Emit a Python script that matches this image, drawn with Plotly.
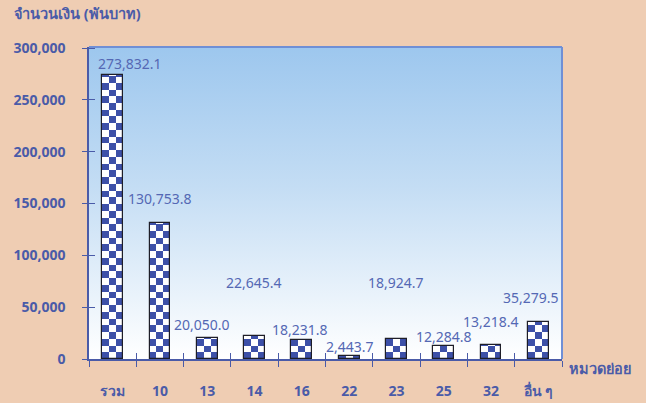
import base64
import math
import plotly.graph_objects as go

# ---------------- data ----------------
categories = ["รวม", "10", "13", "14", "16", "22", "23", "25", "32", "อื่น ๆ"]
values = [273832.1, 130753.8, 20050.0, 22645.4, 18231.8, 2443.7, 18924.7, 12284.8, 13218.4, 35279.5]
y_tickvals = [0, 50000, 100000, 150000, 200000, 250000, 300000]
y_ticktext = ["0", "50,000", "100,000", "150,000", "200,000", "250,000", "300,000"]
y_title = "จำนวนเงิน (พันบาท)"
x_title = "หมวดย่อย"

# label offsets (pixels) -- styling only
label_xshift = [17, 0, -5, -1, -2, 1, 0, 0, 0, -7]
label_yshift = [12, 25, 14, 53, 11, 10, 57, 10, 24, 25]

# ---------------- style ----------------
BG = "#EFCDB3"
AXIS = "#4A5BA8"
LABEL = "#5468B4"
BLUE = "#3D50A8"
FONT = "Tahoma, 'Noto Sans', 'DejaVu Sans', sans-serif"
BAR_W = 0.44
NCOL = 3
CELL = 6500.0  # checker cell height in data units

fig = go.Figure()

# white base of each bar
fig.add_trace(go.Bar(x=categories, y=values, width=BAR_W, offset=-BAR_W / 2,
                     marker=dict(color="white", line=dict(width=0)),
                     hoverinfo="skip", showlegend=False))

# checkerboard blue cells, derived from the values
nrows = int(math.ceil(max(values) / CELL))
cw = BAR_W / NCOL
for r in range(nrows):
    base = r * CELL
    seg = [max(0.0, min(CELL, v - base)) for v in values]
    if max(seg) <= 0:
        continue
    for c in range(NCOL):
        if (r + c) % 2 == 0:
            fig.add_trace(go.Bar(x=categories, y=seg, base=[base] * len(values),
                                 width=cw, offset=-BAR_W / 2 + c * cw,
                                 marker=dict(color=BLUE, line=dict(width=0)),
                                 hoverinfo="skip", showlegend=False))

# outline
fig.add_trace(go.Bar(x=categories, y=values, width=BAR_W, offset=-BAR_W / 2,
                     marker=dict(color="rgba(0,0,0,0)", line=dict(color="#1E1E28", width=1.2)),
                     hoverinfo="skip", showlegend=False))

# data labels (x given as category index)
for i, v in enumerate(values):
    fig.add_annotation(x=i, y=v, xref="x", yref="y", text=f"{v:,.1f}", showarrow=False,
                       xanchor="center", yanchor="middle",
                       xshift=label_xshift[i], yshift=label_yshift[i],
                       font=dict(family=FONT, size=14, color=LABEL))

# axis titles
fig.add_annotation(xref="paper", yref="paper", x=0, y=1, xanchor="left", yanchor="bottom",
                   xshift=-77, yshift=22, text=f"<b>{y_title}</b>", showarrow=False,
                   font=dict(family=FONT, size=14.5, color=AXIS))
fig.add_annotation(xref="paper", yref="paper", x=1, y=0, xanchor="left", yanchor="middle",
                   xshift=5, yshift=-9, text=f"<b>{x_title}</b>", showarrow=False,
                   font=dict(family=FONT, size=14.5, color=AXIS))

# gradient plot background
svg = ('<svg xmlns="http://www.w3.org/2000/svg" width="10" height="100" preserveAspectRatio="none">'
       '<defs><linearGradient id="g" x1="0" y1="0" x2="0" y2="1">'
       '<stop offset="0" stop-color="#9DC7EE"/>'
       '<stop offset="0.45" stop-color="#C4DDF4"/>'
       '<stop offset="1" stop-color="#FFFFFF"/>'
       '</linearGradient></defs><rect width="10" height="100" fill="url(#g)"/></svg>')
uri = "data:image/svg+xml;base64," + base64.b64encode(svg.encode()).decode()
fig.add_layout_image(source=uri, xref="paper", yref="paper", x=0, y=1, sizex=1, sizey=1,
                     xanchor="left", yanchor="top", sizing="stretch", layer="below")

# top and right borders
fig.add_shape(type="line", xref="paper", yref="paper", x0=0, x1=1, y0=1, y1=1,
              line=dict(color="#6F8FD6", width=2))
fig.add_shape(type="line", xref="paper", yref="paper", x0=1, x1=1, y0=0, y1=1,
              line=dict(color="#6F8FD6", width=2))

tick_font = dict(family=FONT, size=14, color=AXIS, weight="bold")

fig.update_layout(
    width=646, height=403,
    margin=dict(l=89, r=84, t=47, b=44),
    paper_bgcolor=BG, plot_bgcolor="rgba(0,0,0,0)",
    barmode="overlay", bargap=0, showlegend=False,
    xaxis=dict(type="category", categoryarray=categories, range=[-0.5, 9.5], automargin=False,
               showgrid=False, zeroline=False, showline=True, linecolor=AXIS, linewidth=1.5,
               ticks="outside", ticklen=6, tickcolor=AXIS, tickwidth=1.2, tickson="boundaries",
               ticklabelstandoff=18, tickfont=tick_font),
    yaxis=dict(range=[0, 301000], tickvals=y_tickvals, ticktext=y_ticktext, automargin=False,
               showgrid=False, zeroline=False, showline=True, linecolor=AXIS, linewidth=1.5,
               ticks="outside", ticklen=5, tickcolor=AXIS, tickwidth=1.2,
               ticklabelstandoff=14, tickfont=tick_font),
    xaxis2=dict(overlaying="x", range=[-0.5, 9.5], tickvals=[0.5 + k for k in range(9)],
                automargin=False,
                ticks="inside", ticklen=6, tickcolor=AXIS, tickwidth=1.2,
                showticklabels=False, showgrid=False, zeroline=False, showline=False),
    yaxis2=dict(overlaying="y", range=[0, 301000], tickvals=y_tickvals, automargin=False,
                ticks="inside", ticklen=6, tickcolor=AXIS, tickwidth=1.2,
                showticklabels=False, showgrid=False, zeroline=False, showline=False),
)

# dummy trace so the overlay axes render
fig.add_trace(go.Scatter(x=[0], y=[0], xaxis="x2", yaxis="y2", mode="markers",
                         marker=dict(opacity=0), hoverinfo="skip", showlegend=False))

fig.write_html("out.html", config={"displayModeBar": False},
               post_script="document.body.style.margin='0';document.body.style.padding='0';")
